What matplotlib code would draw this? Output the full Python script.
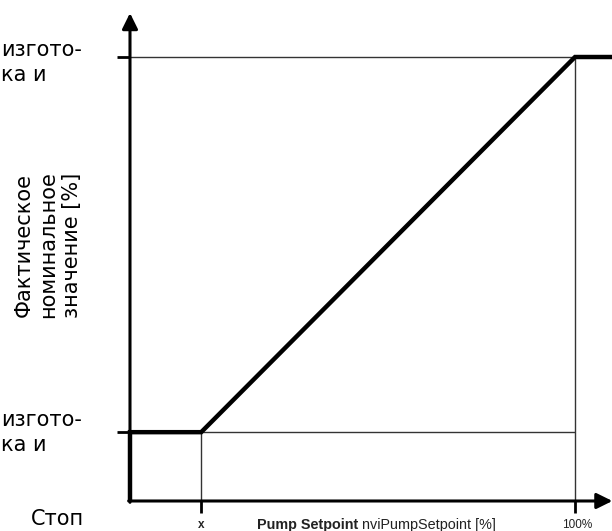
import matplotlib
matplotlib.use("Agg")
import matplotlib.pyplot as plt

# characteristic: pump setpoint [%] -> actual setpoint [%]
x_min = 16.0          # "x" on the horizontal axis
y_min = 15.5          # lower limit (factory setting)
y_max = 100.0         # upper limit
x_max = 100.0         # 100 % setpoint
x_tail = 110.0        # curve runs off to the right edge

curve_x = [0, 0, x_min, x_max, x_tail]
curve_y = [0, y_min, y_min, y_max, y_max]

x_ticks = [x_min, x_max]
x_tick_labels = ["x", "100%"]
y_ticks = [y_min, y_max]

fig = plt.figure(figsize=(6.12, 5.31), dpi=100)
ax = fig.add_axes([0, 0, 1, 1])
ax.set_xlim(-29.21, 108.31)
ax.set_ylim(-6.76, 112.84)
ax.axis("off")

thin = dict(color="#333333", lw=1.0, solid_capstyle="butt")

# guide lines
for y in y_ticks:
    ax.plot([0, x_max], [y, y], **thin)
ax.plot([x_min, x_min], [0, y_min], **thin)
ax.plot([x_max, x_max], [0, y_max], **thin)

# ticks
for y in y_ticks:
    ax.plot([-2.9, 0], [y, y], color="black", lw=2.0, solid_capstyle="butt")
for x in x_ticks:
    ax.plot([x, x], [-2.7, 0], color="black", lw=2.0, solid_capstyle="butt")

# axes with arrows
ax.annotate("", xy=(0, 109.9), xytext=(0, -0.3),
            arrowprops=dict(arrowstyle="-|>,head_length=0.95,head_width=0.47",
                            mutation_scale=10, lw=2.2, color="black",
                            shrinkA=0, shrinkB=0))
ax.annotate("", xy=(108.4, 0), xytext=(-0.3, 0),
            arrowprops=dict(arrowstyle="-|>,head_length=0.95,head_width=0.47",
                            mutation_scale=10, lw=2.2, color="black",
                            shrinkA=0, shrinkB=0))

# characteristic curve
ax.plot(curve_x, curve_y, color="black", lw=3.2, solid_joinstyle="miter",
        solid_capstyle="butt")

# tick labels
lab_font = dict(family="Liberation Sans", color="#222222", va="center", ha="center")
ax.text(x_ticks[0], -5.4, x_tick_labels[0], fontsize=8.5, fontweight="bold", **lab_font)
ax.text(x_ticks[1] + 0.4, -5.4, x_tick_labels[1], fontsize=8.5, **lab_font)

# axis title
px = lambda v: (v - 130) / 4.45
t1 = ax.text(px(257), -5.4, "Pump Setpoint", fontsize=10.4, fontweight="bold",
             family="Liberation Sans", color="#222222", va="center", ha="left")
ax.annotate(" nviPumpSetpoint [%]", xycoords=t1, xy=(1, 0.5), va="center",
            ha="left", fontsize=10.4, family="Liberation Sans", color="#222222")

# left side texts
ru = dict(family="DejaVu Sans", fontsize=15, color="black", va="center")
ax.text(px(1), (501 - 50) / 4.44, "изгото-", ha="left", **ru)
ax.text(px(1), (501 - 75) / 4.44, "ка и", ha="left", **ru)
ax.text(px(1), (501 - 420) / 4.44, "изгото-", ha="left", **ru)
ax.text(px(1), (501 - 445) / 4.44, "ка и", ha="left", **ru)
ax.text(px(57), (501 - 519) / 4.44, "Стоп", ha="center", **ru)

ax.text(px(48), (501 - 245) / 4.44, "Фактическое\nноминальное\nзначение [%]",
        rotation=90, ha="center", multialignment="center", linespacing=1.25,
        **ru)

fig.savefig("out.png", dpi=100)
